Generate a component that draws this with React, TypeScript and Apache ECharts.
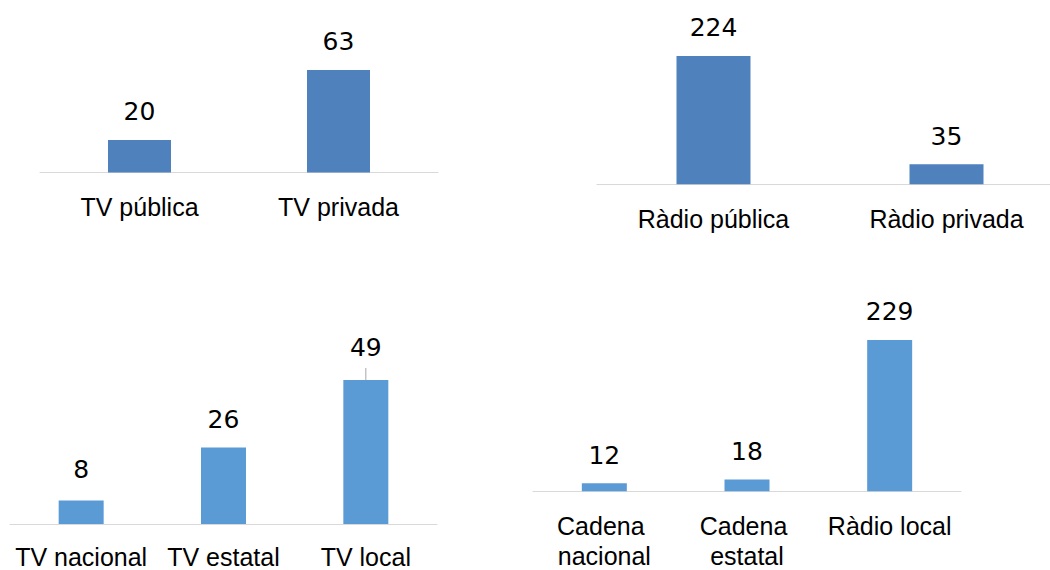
import { useEffect, useRef } from "react";
import * as echarts from "echarts";

// Top-left: TV by ownership
const tvOwnerCategories = ["TV pública", "TV privada"];
const tvOwnerValues = [20, 63];

// Top-right: radio by ownership
const radioOwnerCategories = ["Ràdio pública", "Ràdio privada"];
const radioOwnerValues = [224, 35];

// Bottom-left: TV by scope
const tvScopeCategories = ["TV nacional", "TV estatal", "TV local"];
const tvScopeValues = [8, 26, 49];

// Bottom-right: radio by scope
const radioScopeCategories = ["Cadena nacional", "Cadena estatal", "Ràdio local"];
const radioScopeValues = [12, 18, 229];

const TOP_BLUE = "#4F81BD";
const BOTTOM_BLUE = "#5B9BD5";
const FONT = '"Liberation Sans", Arial, sans-serif';
const VALUE_FONT = '"DejaVu Sans", "Liberation Sans", sans-serif';

export default function App() {
  const ref = useRef<HTMLDivElement>(null);

  useEffect(() => {
    if (!ref.current) return;
    const chart = echarts.init(ref.current, null, { renderer: "svg" });

    const panels = [
      { cats: tvOwnerCategories, vals: tvOwnerValues, color: TOP_BLUE, left: 40, width: 398, top: 42.3, height: 130.2, max: 80, barWidth: 63, labelWidth: 195, margin: 19 },
      { cats: radioOwnerCategories, vals: radioOwnerValues, color: TOP_BLUE, left: 597, width: 466, top: 41.1, height: 143.2, max: 250, barWidth: 74, labelWidth: 230, margin: 20 },
      { cats: tvScopeCategories, vals: tvScopeValues, color: BOTTOM_BLUE, left: 10, width: 427, top: 377, height: 147, max: 50, barWidth: 45, labelWidth: 142, margin: 18 },
      { cats: radioScopeCategories, vals: radioScopeValues, color: BOTTOM_BLUE, left: 533, width: 428, top: 326.1, height: 165.2, max: 250, barWidth: 45, labelWidth: 140, margin: 20 },
    ];

    const seriesData = (pi: number, vals: number[]) => {
      if (pi !== 2) return vals;
      return vals.map((v, i) => {
        if (i === 0) return { value: v, label: { distance: 18 } };
        if (i === 2)
          return {
            value: v,
            label: { distance: 0, padding: [0, 0, 7, 0] },
            labelLine: { show: true, lineStyle: { color: "#A6A6A6", width: 1 } },
          };
        return v;
      });
    };

    const option: any = {
      animation: false,
      grid: panels.map((p) => ({
        left: p.left,
        top: p.top,
        width: p.width,
        height: p.height,
        containLabel: false,
        outerBoundsMode: "none",
      })),
      xAxis: panels.map((p, i) => ({
        type: "category",
        gridIndex: i,
        data: p.cats,
        axisTick: { show: false },
        axisLine: { lineStyle: { color: "#D9D9D9", width: 1 } },
        axisLabel: {
          interval: 0,
          margin: p.margin,
          fontSize: 25,
          lineHeight: 30,
          color: "#000000",
          fontFamily: FONT,
          width: p.labelWidth,
          overflow: "break",
        },
      })),
      yAxis: panels.map((p, i) => ({
        type: "value",
        gridIndex: i,
        min: 0,
        max: p.max,
        show: false,
      })),
      series: panels.map((p, i) => ({
        type: "bar",
        xAxisIndex: i,
        yAxisIndex: i,
        data: seriesData(i, p.vals),
        barWidth: p.barWidth,
        itemStyle: { color: p.color },
        label: {
          show: true,
          position: "top",
          distance: 15,
          fontSize: 25,
          lineHeight: 26,
          color: "#000000",
          fontFamily: VALUE_FONT,
        },
        labelLayout:
          i === 2
            ? (params: any) => (params.dataIndex === 2 ? { dy: -12 } : {})
            : undefined,
      })),
    };

    chart.setOption(option);
    return () => chart.dispose();
  }, []);

  return (
    <div
      ref={ref}
      style={{ position: "absolute", left: 0, top: 0, width: 1050, height: 570 }}
    />
  );
}
